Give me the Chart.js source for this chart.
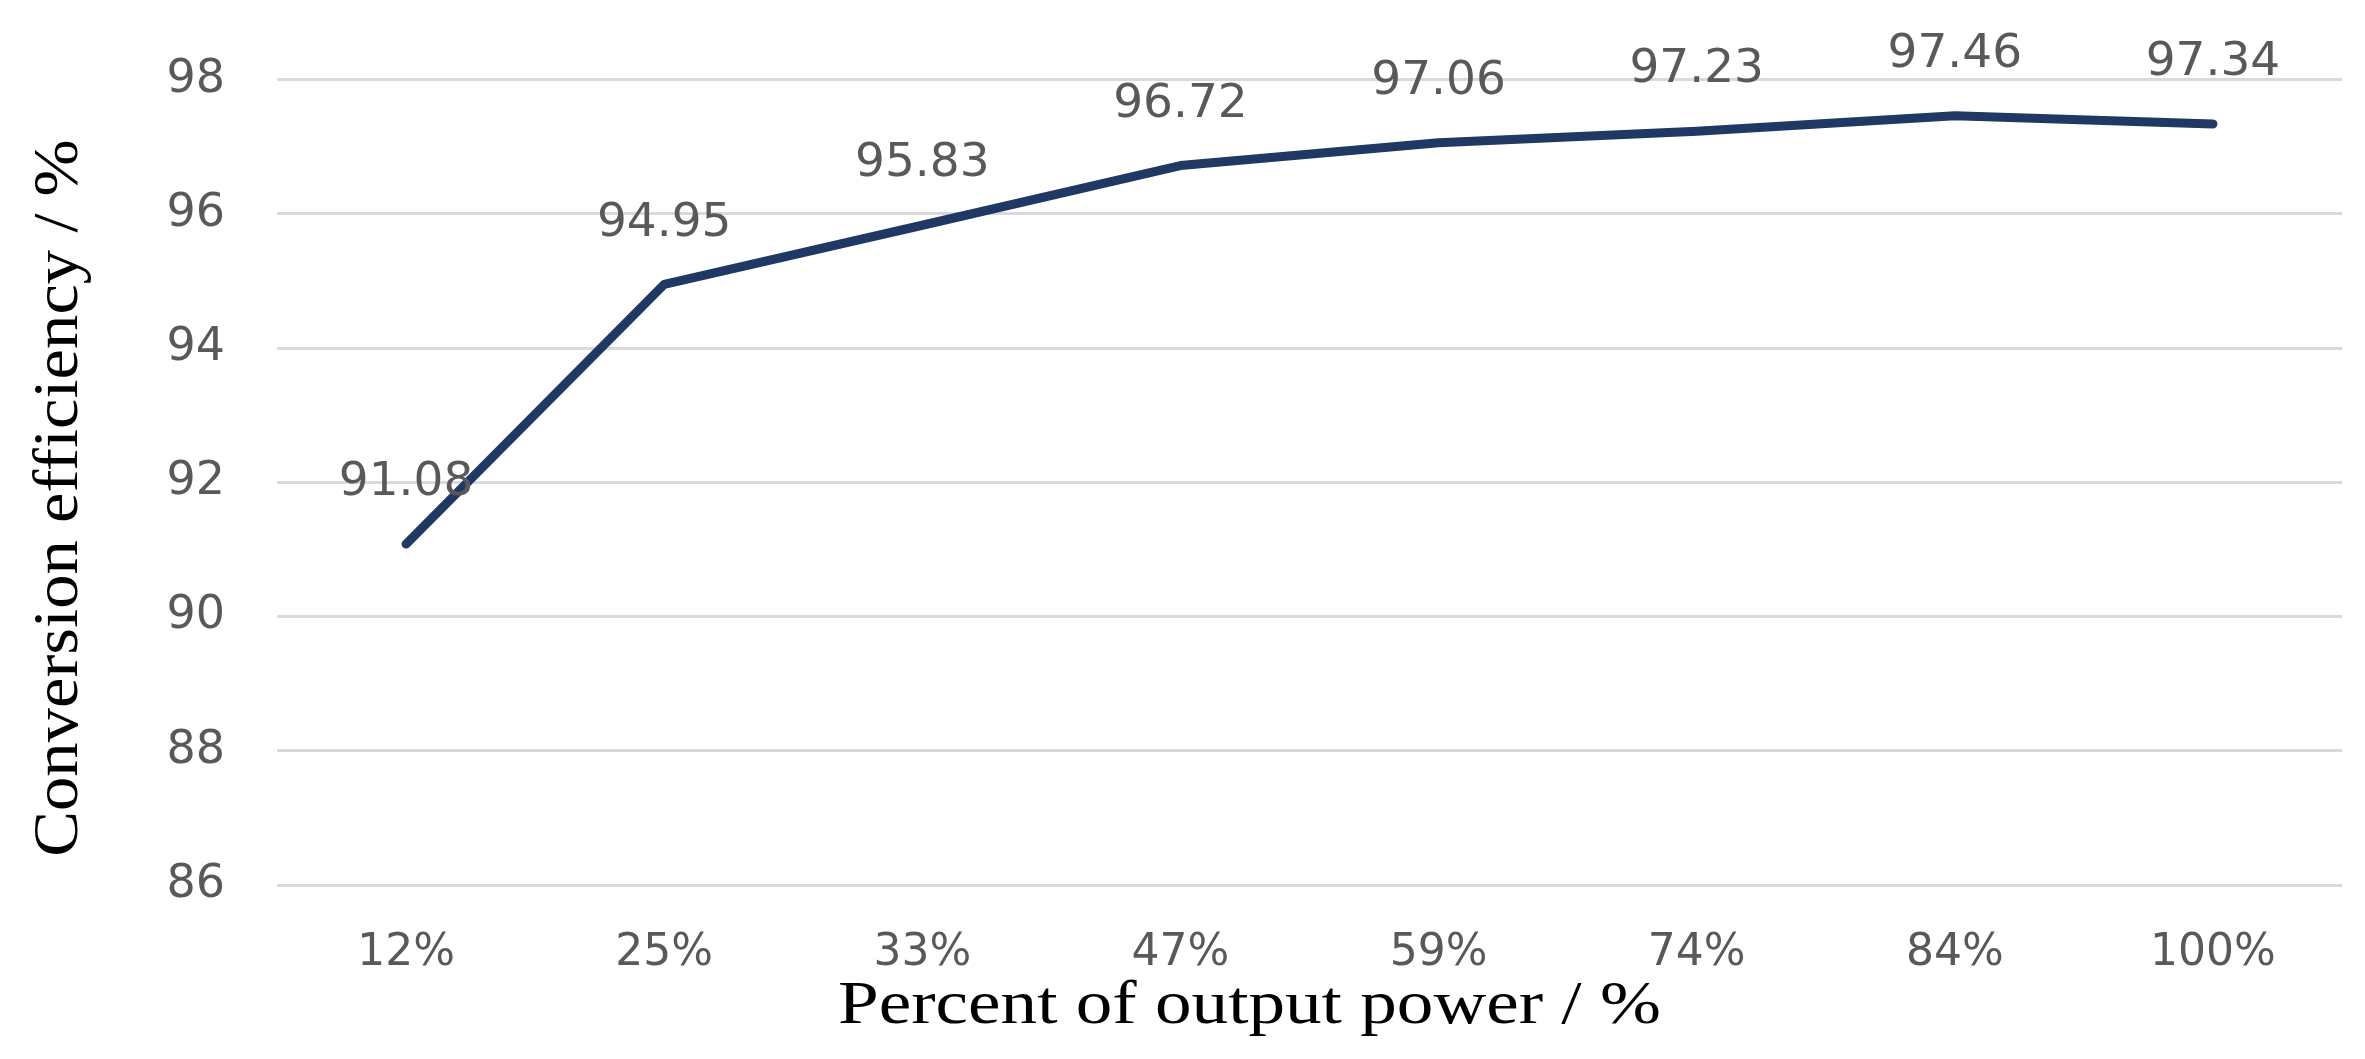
<!DOCTYPE html>
<html>
<head>
<meta charset="utf-8">
<script src="https://cdn.jsdelivr.net/npm/chart.js@4.4.0/dist/chart.umd.min.js"></script>
<style>
    html, body { margin: 0; padding: 0; background: #ffffff; }
    #effChart { display: block; }
</style>
</head>
<body>
<canvas id="effChart" width="2365" height="1059"></canvas>
<script>
// values
const categories = ["12%", "25%", "33%", "47%", "59%", "74%", "84%", "100%"];
const efficiency = [91.08, 94.95, 95.83, 96.72, 97.06, 97.23, 97.46, 97.34];
const yTicks = [86, 88, 90, 92, 94, 96, 98];
const xTitle = "Percent of output power / %";
const yTitle = "Conversion efficiency / %";

const tickGrey = "#595959";
const lineNavy = "#1f3864";

// data labels above each point
const valueLabels = {
    id: "valueLabels",
    afterDatasetsDraw(chart) {
        const ctx = chart.ctx;
        const meta = chart.getDatasetMeta(0);
        ctx.save();
        ctx.font = "47px 'DejaVu Sans'";
        ctx.fillStyle = tickGrey;
        ctx.textAlign = "center";
        ctx.textBaseline = "middle";
        meta.data.forEach((pt, i) => {
            ctx.fillText(efficiency[i].toFixed(2), pt.x, pt.y - 61);
        });
        ctx.restore();
    }
};

// axis titles, the source uses a slightly stretched Times face
const axisTitles = {
    id: "axisTitles",
    afterDraw(chart) {
        const ctx = chart.ctx;
        const area = chart.chartArea;
        ctx.save();
        ctx.fillStyle = "#000000";
        ctx.textAlign = "center";
        ctx.textBaseline = "middle";

        ctx.save();
        ctx.translate((area.left + area.right) / 2 - 60, 1007);
        ctx.scale(1.18, 1);
        ctx.font = "62px 'Liberation Serif'";
        ctx.fillText(xTitle, 0, 0);
        ctx.restore();

        ctx.save();
        ctx.translate(60, 498);
        ctx.rotate(-Math.PI / 2);
        ctx.scale(1.09, 1);
        ctx.font = "63px 'Liberation Serif'";
        ctx.fillText(yTitle, 0, 0);
        ctx.restore();

        ctx.restore();
    }
};

new Chart(document.getElementById("effChart"), {
    type: "line",
    data: {
        labels: categories,
        datasets: [{
            data: efficiency,
            borderColor: lineNavy,
            borderWidth: 9,
            tension: 0,
            pointRadius: 0,
            borderCapStyle: "round",
            borderJoinStyle: "round",
            fill: false,
        }]
    },
    options: {
        responsive: false,
        animation: false,
        devicePixelRatio: 1,
        layout: { padding: { left: 0, right: 23, top: 73, bottom: 18 } },
        plugins: {
            legend: { display: false },
            tooltip: { enabled: false },
        },
        scales: {
            x: {
                offset: true,
                grid: { display: false },
                border: { display: false },
                ticks: {
                    color: tickGrey,
                    font: { family: "'DejaVu Sans'", size: 44 },
                    padding: 34,
                    maxRotation: 0,
                },
                afterFit(scale) { scale.height = 156; },
            },
            y: {
                min: yTicks[0],
                max: yTicks[yTicks.length - 1],
                afterBuildTicks(scale) {
                    scale.ticks = yTicks.map(v => ({ value: v }));
                },
                grid: { color: "#d9d9d9", lineWidth: 3, drawTicks: false },
                border: { display: false },
                ticks: {
                    color: tickGrey,
                    font: { family: "'DejaVu Sans'", size: 46 },
                    padding: 52,
                },
                afterFit(scale) { scale.width = 277; },
            }
        }
    },
    plugins: [valueLabels, axisTitles]
});
</script>
</body>
</html>
